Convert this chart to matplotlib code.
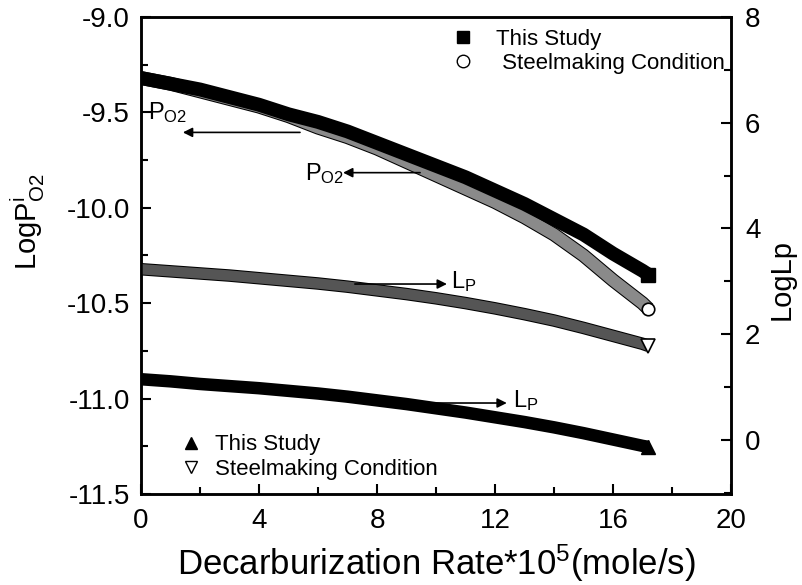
import numpy as np
import matplotlib.pyplot as plt
import matplotlib.patheffects as pe
from matplotlib.lines import Line2D
from matplotlib.ticker import MultipleLocator, FormatStrFormatter

plt.rcParams['font.family'] = ['Liberation Sans', 'DejaVu Sans']
plt.rcParams['mathtext.fontset'] = 'custom'
plt.rcParams['mathtext.rm'] = 'Liberation Sans'
plt.rcParams['mathtext.it'] = 'Liberation Sans:italic'
plt.rcParams['axes.unicode_minus'] = False

# decarburization rate *10^5 (mole/s)
rate = [0, 1, 2, 3, 4, 5, 6, 7, 8, 9, 10, 11, 12, 13, 14, 15, 16, 17, 17.2]
# log PO2 (left axis)
po2_study = [-9.32, -9.35, -9.38, -9.42, -9.46, -9.51, -9.55, -9.60, -9.66, -9.72,
             -9.78, -9.84, -9.91, -9.98, -10.06, -10.14, -10.24, -10.33, -10.35]
po2_steel = [-9.32, -9.35, -9.39, -9.43, -9.47, -9.52, -9.58, -9.63, -9.69, -9.76,
             -9.83, -9.90, -9.97, -10.05, -10.14, -10.25, -10.38, -10.50, -10.53]
# log Lp (right axis)
lp_study = [1.15, 1.11, 1.06, 1.02, 0.98, 0.93, 0.88, 0.82, 0.75, 0.68,
            0.60, 0.52, 0.43, 0.34, 0.24, 0.13, 0.01, -0.11, -0.13]
lp_steel = [3.23, 3.19, 3.15, 3.11, 3.06, 3.01, 2.96, 2.90, 2.83, 2.76,
            2.68, 2.59, 2.49, 2.38, 2.26, 2.12, 1.97, 1.82, 1.78]

fig = plt.figure(figsize=(8.02, 5.85), dpi=100)
ax = fig.add_axes([0.1758, 0.1556, 0.7357, 0.8154])
ax2 = ax.twinx()

# PO2 bands (dense markers drawn as a band, last marker shown on its own)
ax.plot(rate, po2_steel, color='#8a8a8a', lw=8.5, solid_capstyle='butt',
        path_effects=[pe.Stroke(linewidth=10, foreground='k'), pe.Normal()], zorder=2)
ax.plot(rate[-1:], po2_steel[-1:], 'o', ms=9, mfc='white', mec='k', mew=1.2, zorder=2.5)
ax.plot(rate, po2_study, color='k', lw=10, solid_capstyle='butt', zorder=3)
ax.plot(rate[-1:], po2_study[-1:], 's', ms=10, color='k', zorder=3)

# Lp bands
ax2.plot(rate, lp_steel, color='#555555', lw=7.5, solid_capstyle='butt',
         path_effects=[pe.Stroke(linewidth=9, foreground='k'), pe.Normal()], zorder=2)
ax2.plot(rate[-1:], lp_steel[-1:], 'v', ms=10, mfc='white', mec='k', mew=1.2, zorder=2.5)
ax2.plot(rate, lp_study, color='k', lw=9, solid_capstyle='butt', zorder=3)
ax2.plot(rate[-1:], lp_study[-1:], '^', ms=10, color='k', zorder=3)

ax.set_xlim(0, 20)
ax.set_ylim(-11.5, -9.0)
ax2.set_ylim(-1.02, 8)

ax.xaxis.set_major_locator(MultipleLocator(4))
ax.xaxis.set_minor_locator(MultipleLocator(2))
ax.yaxis.set_major_locator(MultipleLocator(0.5))
ax.yaxis.set_minor_locator(MultipleLocator(0.25))
ax.yaxis.set_major_formatter(FormatStrFormatter('%.1f'))
ax2.yaxis.set_major_locator(MultipleLocator(2))
ax2.yaxis.set_minor_locator(MultipleLocator(1))

ax.tick_params(which='both', direction='in', labelsize=20, width=1.5, top=False, right=False)
ax.tick_params(axis='x', pad=10)
ax.tick_params(axis='y', pad=8)
ax.tick_params(which='major', length=7)
ax.tick_params(which='minor', length=5)
ax2.tick_params(which='both', direction='in', labelsize=20, width=1.5, pad=10)
ax2.tick_params(which='major', length=7)
ax2.tick_params(which='minor', length=5)
for a in (ax, ax2):
    for s in a.spines.values():
        s.set_linewidth(1.8)

ax.set_xlabel('Decarburization Rate*10$^{\\mathregular{5}}$(mole/s)', fontsize=25, labelpad=6)
ax.set_ylabel('LogP$_{\\mathregular{O2}}^{\\mathregular{i}}$', fontsize=21)
ax.yaxis.set_label_coords(-0.16, 0.57)
ax2.set_ylabel('LogLp', fontsize=21)
ax2.yaxis.set_label_coords(1.062, 0.45)

# arrows and labels
arr = dict(arrowstyle='-|>', color='k', lw=1.2, mutation_scale=14, shrinkA=0, shrinkB=0)
ax.annotate('', xy=(1.42, -9.605), xytext=(5.39, -9.605), arrowprops=arr)
ax.text(0.25, -9.50, 'P$_{\\mathregular{O2}}$', fontsize=17, va='center')
ax.annotate('', xy=(6.85, -9.816), xytext=(9.46, -9.816), arrowprops=arr)
ax.text(5.55, -9.82, 'P$_{\\mathregular{O2}}$', fontsize=17, va='center')
ax2.annotate('', xy=(10.37, 2.95), xytext=(7.25, 2.95), arrowprops=arr)
ax2.text(10.5, 3.0, 'L$_{\\mathregular{P}}$', fontsize=17, va='center')
ax2.annotate('', xy=(12.4, 0.70), xytext=(9.7, 0.70), arrowprops=arr)
ax2.text(12.6, 0.75, 'L$_{\\mathregular{P}}$', fontsize=17, va='center')

# legends
h_top = [Line2D([], [], ls='none', marker='s', color='k', ms=8),
         Line2D([], [], ls='none', marker='o', mfc='white', mec='k', ms=9)]
ax2.legend(h_top, ['This Study', ' Steelmaking Condition'], loc='upper left',
           bbox_to_anchor=(0.527, 0.975), frameon=False, fontsize=16,
           handlelength=1.0, handletextpad=1.0, labelspacing=0.15,
           borderpad=0, borderaxespad=0)
h_bot = [Line2D([], [], ls='none', marker='^', color='k', ms=9),
         Line2D([], [], ls='none', marker='v', mfc='white', mec='k', ms=9)]
ax.legend(h_bot, ['This Study', 'Steelmaking Condition'], loc='lower left',
          bbox_to_anchor=(0.066, 0.03), frameon=False, fontsize=16,
          handlelength=1.0, handletextpad=0.6, labelspacing=0.15,
          borderpad=0, borderaxespad=0)

plt.savefig('out.png', dpi=100)
